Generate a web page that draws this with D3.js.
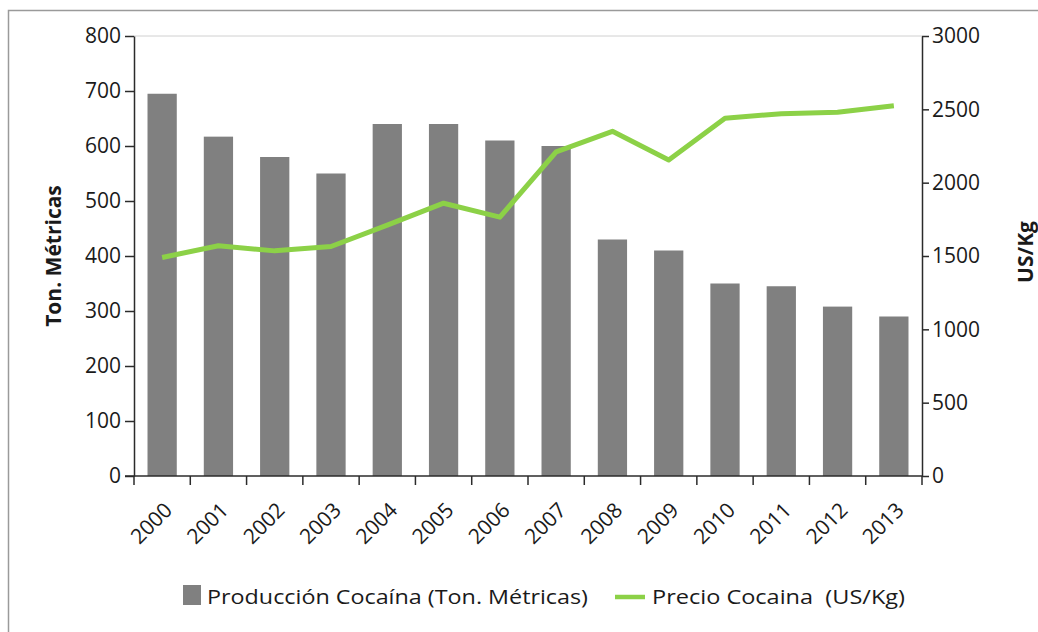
<!DOCTYPE html>
<html>
<head>
<meta charset="utf-8">
<script src="https://cdn.jsdelivr.net/npm/d3@7"></script>
<style>
  body { margin: 0; background: #fff; }
  text { font-family: "Open Sans", sans-serif; fill: #1a1a1a; }
</style>
</head>
<body>
<div id="chart"></div>
<script>
// data
const years = ["2000", "2001", "2002", "2003", "2004", "2005", "2006", "2007", "2008", "2009", "2010", "2011", "2012", "2013"];
const produccion = [695, 617, 580, 550, 640, 640, 610, 600, 430, 410, 350, 345, 308, 290];
const precio = [1490, 1570, 1535, 1565, 1710, 1860, 1765, 2210, 2350, 2155, 2440, 2470, 2480, 2525];
const leftTicks = [0, 100, 200, 300, 400, 500, 600, 700, 800];
const rightTicks = [0, 500, 1000, 1500, 2000, 2500, 3000];

const cfg = {
    width: 1038,
    height: 632,
    margin: { top: 36, right: 116, bottom: 156, left: 134 },
    barColor: "#808080",
    lineColor: "#8cd147",
    axisColor: "#2b2b2b"
};

const width = cfg.width - cfg.margin.left - cfg.margin.right;
const height = cfg.height - cfg.margin.top - cfg.margin.bottom;

const svg = d3.select("#chart")
    .append("svg")
    .attr("width", cfg.width)
    .attr("height", cfg.height);

// outer frame
svg.append("rect")
    .attr("x", 8.5).attr("y", 10.5)
    .attr("width", 1100).attr("height", 700)
    .attr("fill", "none")
    .attr("stroke", "#9a9a9a")
    .attr("stroke-width", 1.5);

const g = svg.append("g")
    .attr("transform", "translate(" + cfg.margin.left + "," + cfg.margin.top + ")");

const x = d3.scaleBand().domain(years).range([0, width]);

const yLeft = d3.scaleLinear().domain([0, 800]).range([height, 0]);
const yRight = d3.scaleLinear().domain([0, 3000]).range([height, 0]);

// top gridline
g.append("line")
    .attr("x1", 0).attr("x2", width)
    .attr("y1", yLeft(800)).attr("y2", yLeft(800))
    .attr("stroke", "#d0d0d0")
    .attr("stroke-width", 1);

// bars
const barW = x.bandwidth() * 0.52;
g.selectAll(".bar")
    .data(years)
    .enter()
    .append("rect")
    .attr("class", "bar")
    .attr("x", (d) => x(d) + (x.bandwidth() - barW) / 2)
    .attr("width", barW)
    .attr("y", (d, i) => yLeft(produccion[i]))
    .attr("height", (d, i) => height - yLeft(produccion[i]))
    .attr("fill", cfg.barColor);

// price line
const line = d3.line()
    .x((d, i) => x(years[i]) + x.bandwidth() / 2)
    .y((d) => yRight(d));

g.append("path")
    .datum(precio)
    .attr("d", line)
    .attr("fill", "none")
    .attr("stroke", cfg.lineColor)
    .attr("stroke-width", 5)
    .attr("stroke-linejoin", "round");

// left axis
const leftAxis = g.append("g")
    .call(d3.axisLeft(yLeft).tickValues(leftTicks).tickSize(9).tickPadding(4).tickSizeOuter(0));

// right axis
const rightAxis = g.append("g")
    .attr("transform", "translate(" + width + ",0)")
    .call(d3.axisRight(yRight).tickValues(rightTicks).tickFormat(d3.format("d"))
        .tickSize(7).tickPadding(3).tickSizeOuter(0));

// bottom axis: ticks on band boundaries, labels under band centres
const bottom = g.append("g")
    .attr("transform", "translate(0," + height + ")");

bottom.append("line")
    .attr("x1", -9).attr("x2", width)
    .attr("stroke", cfg.axisColor).attr("stroke-width", 1.5);

bottom.selectAll(".btick")
    .data(years.concat(["end"]))
    .enter()
    .append("line")
    .attr("class", "btick")
    .attr("x1", (d, i) => i * x.step())
    .attr("x2", (d, i) => i * x.step())
    .attr("y1", 0).attr("y2", 9)
    .attr("stroke", cfg.axisColor).attr("stroke-width", 1.5);

bottom.selectAll(".blabel")
    .data(years)
    .enter()
    .append("text")
    .attr("class", "blabel")
    .attr("transform", (d) => "translate(" + (x(d) + x.bandwidth() / 2 + 1) + ",25) rotate(-45)")
    .attr("text-anchor", "end")
    .attr("dy", "0.7em")
    .style("font-size", "21px")
    .text((d) => d);

[leftAxis, rightAxis].forEach((a) => {
    a.select(".domain").attr("stroke", cfg.axisColor).attr("stroke-width", 1.5);
    a.selectAll(".tick line").attr("stroke", cfg.axisColor).attr("stroke-width", 1.5);
    a.selectAll(".tick text")
        .style("font-family", "'Open Sans', sans-serif")
        .style("font-size", "21px")
        .attr("fill", "#1a1a1a");
});

// axis titles
svg.append("text")
    .attr("transform", "translate(61,256) rotate(-90)")
    .attr("text-anchor", "middle")
    .style("font-size", "21px")
    .style("font-weight", "bold")
    .text("Ton. Métricas");

svg.append("text")
    .attr("transform", "translate(1033,252) rotate(-90)")
    .attr("text-anchor", "middle")
    .style("font-size", "21px")
    .style("font-weight", "bold")
    .text("US/Kg");

// legend
const legend = svg.append("g").attr("transform", "translate(183,597)");

legend.append("rect")
    .attr("x", 0).attr("y", -12)
    .attr("width", 18).attr("height", 20)
    .attr("fill", cfg.barColor);

legend.append("text")
    .attr("x", 24).attr("y", 0)
    .attr("dy", "0.35em")
    .attr("textLength", 381)
    .attr("lengthAdjust", "spacingAndGlyphs")
    .style("font-size", "20px")
    .text("Producción Cocaína (Ton. Métricas)");

legend.append("line")
    .attr("x1", 432).attr("x2", 462)
    .attr("y1", 0).attr("y2", 0)
    .attr("stroke", cfg.lineColor)
    .attr("stroke-width", 4.5);

legend.append("text")
    .attr("x", 469).attr("y", 0)
    .attr("dy", "0.35em")
    .attr("xml:space", "preserve")
    .attr("textLength", 253)
    .attr("lengthAdjust", "spacingAndGlyphs")
    .style("font-size", "20px")
    .text("Precio Cocaina  (US/Kg)");
</script>
</body>
</html>
